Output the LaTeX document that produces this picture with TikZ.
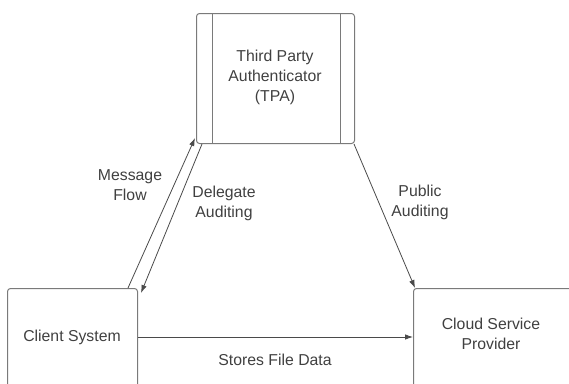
\documentclass[tikz,border=0pt]{standalone}
\usepackage{fontspec}
\setmainfont{Liberation Sans}
\usetikzlibrary{arrows.meta,calc}
\definecolor{edge}{HTML}{7A7A7A}
\definecolor{ink}{HTML}{404040}
\definecolor{wire}{HTML}{4A4A4A}
\begin{document}
\begin{tikzpicture}[x=1pt,y=-1pt,
  box/.style={draw=edge,line width=1pt,rounded corners=3pt,inner sep=0pt,anchor=north west},
  txt/.style={text=ink,font=\fontsize{15.8}{20}\selectfont,align=center,inner sep=0pt},
  flow/.style={draw=wire,line width=0.8pt,-{Latex[length=8pt,width=5.5pt]}}]
\useasboundingbox (0,0) rectangle (569,383);
\clip (0,0) rectangle (569,383);

% boxes
\node[box,minimum width=158pt,minimum height=130pt] (tpa) at (196,13) {};
\draw[edge,line width=1pt] ($(tpa.north west)+(16,0)$) -- ($(tpa.south west)+(16,0)$);
\draw[edge,line width=1pt] ($(tpa.north east)+(-15,0)$) -- ($(tpa.south east)+(-15,0)$);
\node[box,minimum width=130pt,minimum height=150pt] (client) at (7,288) {};
\node[box,minimum width=200pt,minimum height=150pt] (cloud) at (413,288) {};

% box texts
\node[txt] (tpatxt) at (275,77) {Third Party\\Authenticator\\(TPA)};
\node[txt] (clienttxt) at (72,337) {Client System};
\node[txt] (cloudtxt) at (491,334) {Cloud Service\\Provider};

% connectors
\draw[flow] ($(client.north west)+(121,0)$) -- ($(tpa.south west)+(-1,-6)$);
\draw[flow] ($(tpa.south west)+(6,0)$) -- ($(client.north east)+(3,5)$);
\draw[flow] ($(tpa.south east)+(-1,0)$) -- ($(cloud.north west)+(2,0)$);
\draw[flow] ($(client.north east)+(0,49)$) -- ($(cloud.north west)+(0,49)$);

% connector labels
\node[txt] (msg) at (130,185) {Message\\Flow};
\node[txt] (deleg) at (224,203) {Delegate\\Auditing};
\node[txt] (pub) at (420,202) {Public\\Auditing};
\node[txt] (stores) at (275,360) {Stores File Data};
\end{tikzpicture}
\end{document}
